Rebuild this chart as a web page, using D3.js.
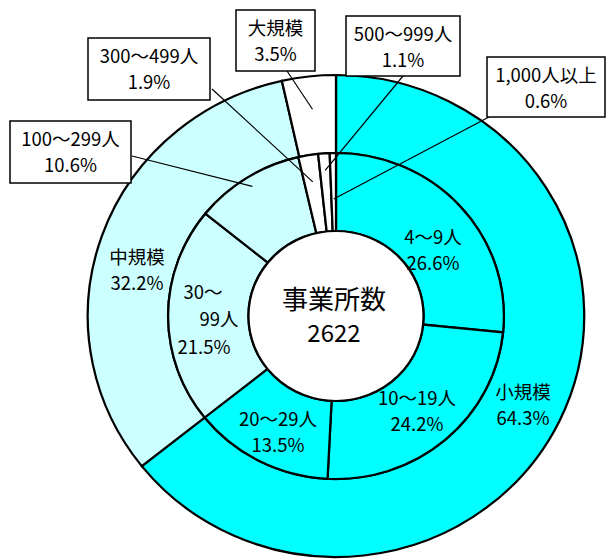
<!DOCTYPE html>
<html>
<head>
<meta charset="utf-8">
<script src="https://cdn.jsdelivr.net/npm/d3@7"></script>
<style>
body{margin:0;background:#fff;}
text{font-family:"Noto Sans CJK JP","Noto Sans",sans-serif;fill:#000;}
</style>
</head>
<body>
<div id="canvas"></div>
<script>
var w = 608;
var h = 559;

// outer ring: size groups
var outerNames = ["小規模", "中規模", "大規模"];
var outerValues = [64.3, 32.2, 3.5];

// inner ring: number of employees
var innerNames = ["4〜9人", "10〜19人", "20〜29人", "30〜99人", "100〜299人", "300〜499人", "500〜999人", "1,000人以上"];
var innerValues = [26.6, 24.2, 13.5, 21.5, 10.6, 1.9, 1.1, 0.6];
var innerGroup = [0, 0, 0, 1, 1, 2, 2, 2];

var centerTitle = "事業所数";
var centerTotal = "2622";

var colors = ["#00ffff", "#ccffff", "#ffffff"];

var cx = 336, cy = 316;
var rHole = 85, rMid = 163, rOuter = 241;

var svg = d3.select("#canvas").append("svg")
				.attr("width", w)
				.attr("height", h);

var pie = d3.pie().sort(null).value(function(d){ return d; });

var outerArcs = pie(outerValues);
var innerArcs = pie(innerValues);

var outerArc = d3.arc().innerRadius(rMid).outerRadius(rOuter);
var innerArc = d3.arc().innerRadius(rHole).outerRadius(rMid);

// slightly wider than tall, like the original
var g = svg.append("g")
			.attr("transform", "translate(" + cx + "," + cy + ") scale(1.03,1)");

g.selectAll("path.outer")
	.data(outerArcs)
	.join("path")
	.attr("class", "outer")
	.attr("d", outerArc)
	.attr("fill", function(d, i){ return colors[i]; })
	.attr("stroke", "#000")
	.attr("stroke-width", 2.2);

g.selectAll("path.inner")
	.data(innerArcs)
	.join("path")
	.attr("class", "inner")
	.attr("d", innerArc)
	.attr("fill", function(d, i){ return colors[innerGroup[i]]; })
	.attr("stroke", "#000")
	.attr("stroke-width", 2.2);

g.append("circle")
	.attr("r", rHole)
	.attr("fill", "#fff")
	.attr("stroke", "#000")
	.attr("stroke-width", 2.2);

function pct(v){ return v.toFixed(1) + "%"; }

var fs = 18.5;
function twoLines(x, y, a, b, gap){
	svg.append("text").attr("x", x).attr("y", y).attr("text-anchor", "middle")
		.attr("font-size", fs).text(a);
	svg.append("text").attr("x", x).attr("y", y + gap).attr("text-anchor", "middle")
		.attr("font-size", fs).text(b);
}

// labels written inside the rings
var outerLabelPos = [[523, 399], [137, 264]];
outerLabelPos.forEach(function(p, i){
	twoLines(p[0], p[1], outerNames[i], pct(outerValues[i]), 26);
});

var innerLabelPos = [[433, 244], [417, 405], [278, 426]];
innerLabelPos.forEach(function(p, i){
	twoLines(p[0], p[1], innerNames[i], pct(innerValues[i]), 26);
});

// 30〜99人 wraps over three lines
var split = innerNames[3].split("〜");
svg.append("text").attr("x", 203).attr("y", 299).attr("text-anchor", "middle")
	.attr("font-size", fs).text(split[0] + "〜");
svg.append("text").attr("x", 219).attr("y", 326).attr("text-anchor", "middle")
	.attr("font-size", fs).text(split[1]);
svg.append("text").attr("x", 204).attr("y", 354).attr("text-anchor", "middle")
	.attr("font-size", fs).text(pct(innerValues[3]));

// centre
svg.append("text").attr("x", cx - 2).attr("y", 309).attr("text-anchor", "middle")
	.attr("font-size", 26).text(centerTitle);
svg.append("text").attr("x", cx - 2).attr("y", 342).attr("text-anchor", "middle")
	.attr("font-size", 24).text(centerTotal);

// callout boxes: [ring, index, boxX, boxY, boxW, boxH, anchorX, anchorY, leaderRadius]
var callouts = [
	["outer", 2, 236, 10, 79, 61, 287, 71, 208],
	["inner", 5, 88, 38, 122, 62, 212, 89, 136],
	["inner", 6, 346, 16, 114, 60, 403, 76, 146],
	["inner", 7, 487, 57, 118, 60, 489, 117, 117],
	["inner", 4, 10, 121, 121, 62, 132, 156, 153]
];

callouts.forEach(function(c){
	var arcs = c[0] == "outer" ? outerArcs : innerArcs;
	var names = c[0] == "outer" ? outerNames : innerNames;
	var vals = c[0] == "outer" ? outerValues : innerValues;
	var d = arcs[c[1]];
	var a = (d.startAngle + d.endAngle) / 2;
	var ex = cx + Math.sin(a) * c[8] * 1.03;
	var ey = cy - Math.cos(a) * c[8];
	svg.append("line")
		.attr("x1", c[6]).attr("y1", c[7])
		.attr("x2", ex).attr("y2", ey)
		.attr("stroke", "#000").attr("stroke-width", 1.2);
	svg.append("rect")
		.attr("x", c[2]).attr("y", c[3])
		.attr("width", c[4]).attr("height", c[5])
		.attr("fill", "#fff").attr("stroke", "#000").attr("stroke-width", 1.5);
	var mx = c[2] + c[4] / 2;
	twoLines(mx, c[3] + 25, names[c[1]], pct(vals[c[1]]), 26);
});
</script>
</body>
</html>
